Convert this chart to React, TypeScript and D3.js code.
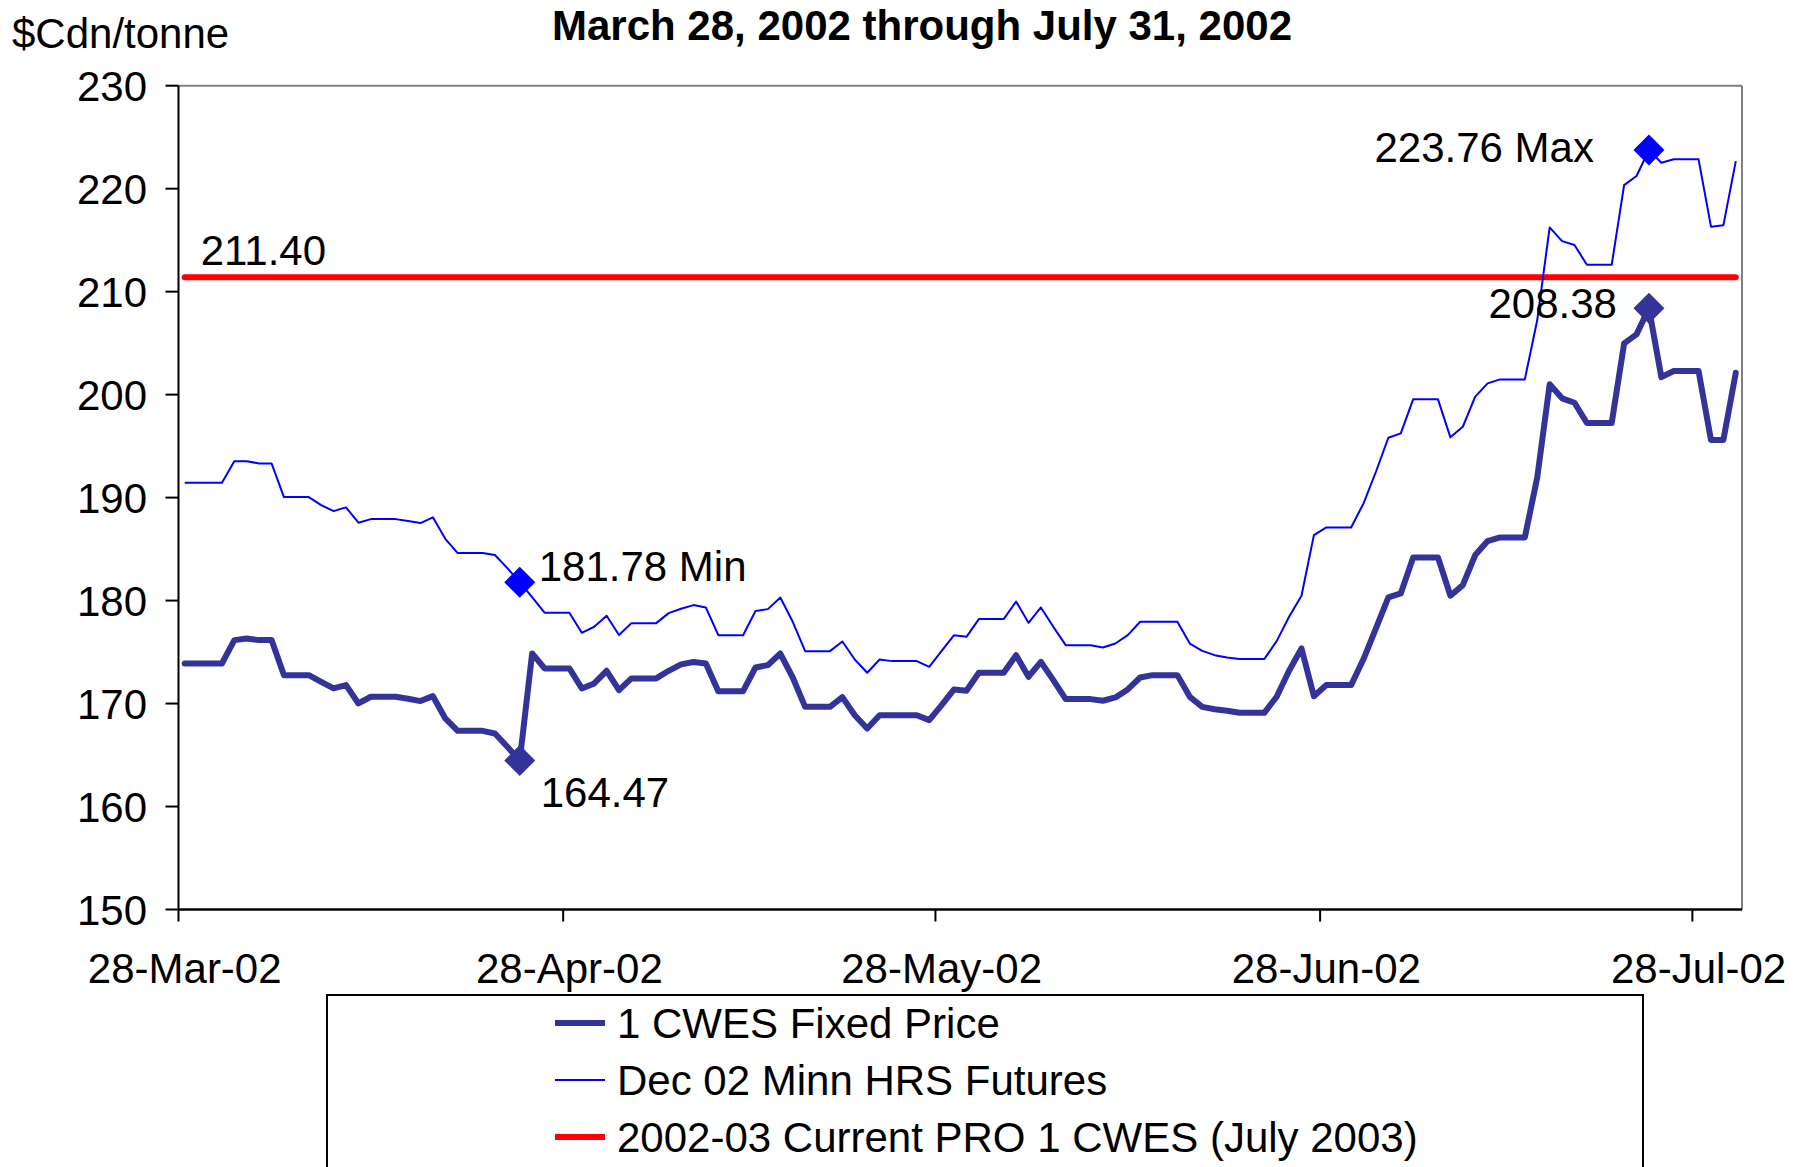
import React from 'react';
import * as d3 from 'd3';

const width = 1801;
const height = 1167;

const parseDay = d3.utcParse('%Y-%m-%d');
const startDate = '2002-03-28';
const endDate = '2002-08-01'; // axis runs to the end of July 31

// one value per calendar day, Mar 28 .. Jul 31 2002 (weekends carry Friday's price)
const fixedPrice = [
  173.89, 173.89, 173.89, 173.89, 176.16, 176.32, 176.16, 176.16, 172.76, 172.76,
  172.76, 172.11, 171.47, 171.79, 170.01, 170.66, 170.66, 170.66, 170.46, 170.24,
  170.72, 168.55, 167.35, 167.35, 167.35, 167.09, 165.80, 164.47, 174.87, 173.41,
  173.41, 173.41, 171.47, 171.95, 173.18, 171.30, 172.44, 172.44, 172.44, 173.18,
  173.80, 174.04, 173.89, 171.20, 171.20, 171.20, 173.50, 173.73, 174.86, 172.53,
  169.68, 169.68, 169.68, 170.62, 168.87, 167.58, 168.87, 168.87, 168.87, 168.87,
  168.39, 169.84, 171.37, 171.24, 172.99, 172.99, 172.99, 174.70, 172.60, 174.05,
  172.27, 170.43, 170.43, 170.43, 170.27, 170.59, 171.37, 172.53, 172.76, 172.76,
  172.76, 170.65, 169.68, 169.45, 169.30, 169.10, 169.10, 169.10, 170.66, 173.18,
  175.35, 170.72, 171.79, 171.79, 171.79, 174.32, 177.29, 180.31, 180.69, 184.19,
  184.19, 184.19, 180.47, 181.50, 184.42, 185.78, 186.13, 186.13, 186.13, 191.96,
  201.00, 199.64, 199.21, 197.24, 197.24, 197.24, 204.97, 205.85, 208.38, 201.70,
  202.30, 202.30, 202.30, 195.60, 195.60, 202.12,
];

const futures = [
  191.44, 191.44, 191.44, 191.44, 193.52, 193.52, 193.32, 193.32, 190.05, 190.05,
  190.05, 189.27, 188.69, 189.05, 187.56, 187.91, 187.91, 187.91, 187.72, 187.53,
  188.08, 186.00, 184.61, 184.61, 184.61, 184.42, 183.15, 181.78, 180.34, 178.82,
  178.82, 178.82, 176.87, 177.46, 178.53, 176.65, 177.81, 177.81, 177.81, 178.78,
  179.20, 179.56, 179.33, 176.64, 176.64, 176.64, 178.98, 179.17, 180.30, 177.94,
  175.09, 175.09, 175.09, 176.03, 174.28, 172.99, 174.28, 174.12, 174.12, 174.12,
  173.57, 175.12, 176.64, 176.48, 178.20, 178.20, 178.20, 179.91, 177.84, 179.33,
  177.45, 175.67, 175.67, 175.67, 175.45, 175.83, 176.64, 177.94, 177.94, 177.94,
  177.94, 175.83, 175.12, 174.70, 174.48, 174.32, 174.32, 174.32, 176.06, 178.43,
  180.47, 186.36, 187.10, 187.10, 187.10, 189.44, 192.51, 195.81, 196.24, 199.54,
  199.54, 199.54, 195.85, 196.88, 199.80, 201.09, 201.48, 201.48, 201.48, 207.24,
  216.24, 214.91, 214.53, 212.61, 212.61, 212.61, 220.35, 221.23, 223.76, 222.52,
  222.85, 222.85, 222.85, 216.31, 216.44, 222.68,
];

const proPrice = 211.40;

const yTicks = [150, 160, 170, 180, 190, 200, 210, 220, 230];
const xTickDates = ['2002-03-28', '2002-04-28', '2002-05-28', '2002-06-28', '2002-07-28'];

const seriesNames = [
  '1 CWES Fixed Price',
  'Dec 02 Minn HRS Futures',
  '2002-03 Current PRO 1 CWES (July 2003)',
];

const title = 'March 28, 2002 through July 31, 2002';
const yLabel = '$Cdn/tonne';

const navy = '#333399';
const blue = '#0000FF';
const red = '#FF0000';
const font = '"Liberation Sans", Arial, sans-serif';

const margin = { left: 178.5, right: 1742, top: 85.7, bottom: 909.5 };

export default function App() {
  const days = d3.utcDay.range(parseDay(startDate), parseDay(endDate));
  const mid = (d) => d3.utcHour.offset(d, 12);

  const x = d3.scaleUtc()
    .domain([parseDay(startDate), parseDay(endDate)])
    .range([margin.left, margin.right]);
  const y = d3.scaleLinear().domain([150, 230]).range([margin.bottom, margin.top]);

  const line = d3.line()
    .x((_, i) => x(mid(days[i])))
    .y((v) => y(v));

  const proLine = days.map(() => proPrice);

  const diamond = d3.symbol().type(d3.symbolSquare).size(480)();

  // markers sit on the days of the fixed price low and high
  const iMin = d3.minIndex(fixedPrice);
  const iMax = d3.maxIndex(fixedPrice);

  const markers = [
    { i: iMin, v: futures[iMin], color: blue, label: `${futures[iMin].toFixed(2)} Min`, dx: 19, dy: -1, anchor: 'start' },
    { i: iMin, v: fixedPrice[iMin], color: navy, label: fixedPrice[iMin].toFixed(2), dx: 21, dy: 47, anchor: 'start' },
    { i: iMax, v: futures[iMax], color: blue, label: `${futures[iMax].toFixed(2)} Max`, dx: -55, dy: 12, anchor: 'end' },
    { i: iMax, v: fixedPrice[iMax], color: navy, label: fixedPrice[iMax].toFixed(2), dx: -32, dy: 10, anchor: 'end' },
  ];

  const legendRows = [
    { name: seriesNames[0], color: navy, w: 6 },
    { name: seriesNames[1], color: blue, w: 2 },
    { name: seriesNames[2], color: red, w: 6 },
  ];

  return (
    <svg width={width} height={height} style={{ position: 'absolute', left: 0, top: 0, background: '#fff' }}
      fontFamily={font}>
      <rect width={width} height={height} fill="#fff" />

      {/* plot frame */}
      <line x1={margin.left} x2={margin.right} y1={margin.top} y2={margin.top} stroke="#808080" strokeWidth={2} />
      <line x1={margin.right} x2={margin.right} y1={margin.top} y2={margin.bottom} stroke="#808080" strokeWidth={2} />

      {/* y axis */}
      <line x1={margin.left} x2={margin.left} y1={margin.top} y2={margin.bottom} stroke="#000" strokeWidth={2} />
      {yTicks.map((t) => (
        <g key={t}>
          <line x1={margin.left - 13} x2={margin.left} y1={y(t)} y2={y(t)} stroke="#000" strokeWidth={2} />
          <text x={147} y={y(t)} dy="0.36em" textAnchor="end" fontSize={42}>{t}</text>
        </g>
      ))}

      {/* x axis */}
      <line x1={margin.left} x2={margin.right} y1={margin.bottom} y2={margin.bottom} stroke="#000" strokeWidth={2.5} />
      {xTickDates.map((s) => {
        const d = parseDay(s);
        return (
          <g key={s}>
            <line x1={x(d)} x2={x(d)} y1={margin.bottom} y2={margin.bottom + 12} stroke="#000" strokeWidth={2} />
            <text x={x(mid(d))} y={983} textAnchor="middle" fontSize={42}>{d3.utcFormat('%d-%b-%y')(d)}</text>
          </g>
        );
      })}

      {/* series */}
      <path d={line(proLine)} fill="none" stroke={red} strokeWidth={6} strokeLinecap="round" />
      <path d={line(futures)} fill="none" stroke={blue} strokeWidth={2} strokeLinejoin="round" />
      <path d={line(fixedPrice)} fill="none" stroke={navy} strokeWidth={6} strokeLinejoin="round" strokeLinecap="round" />

      <text x={x(mid(days[0])) + 16} y={y(proPrice) - 12} fontSize={42}>{proPrice.toFixed(2)}</text>

      {markers.map((m, k) => {
        const px = x(mid(days[m.i]));
        const py = y(m.v);
        return (
          <g key={k}>
            <path d={diamond} transform={`translate(${px},${py}) rotate(45)`} fill={m.color} />
            <text x={px + m.dx} y={py + m.dy} textAnchor={m.anchor} fontSize={42}>{m.label}</text>
          </g>
        );
      })}

      {/* title */}
      <text x={922} y={40} textAnchor="middle" fontSize={42} fontWeight="bold">{title}</text>
      <text x={12} y={48} fontSize={42}>{yLabel}</text>

      {/* legend */}
      <rect x={327} y={995} width={1316} height={220} fill="#fff" stroke="#000" strokeWidth={2} />
      {legendRows.map((r, k) => {
        const ly = 1023 + k * 57;
        return (
          <g key={r.name}>
            <line x1={555} x2={605} y1={ly} y2={ly} stroke={r.color} strokeWidth={r.w} />
            <text x={617} y={ly + 15} fontSize={42}>{r.name}</text>
          </g>
        );
      })}
    </svg>
  );
}
